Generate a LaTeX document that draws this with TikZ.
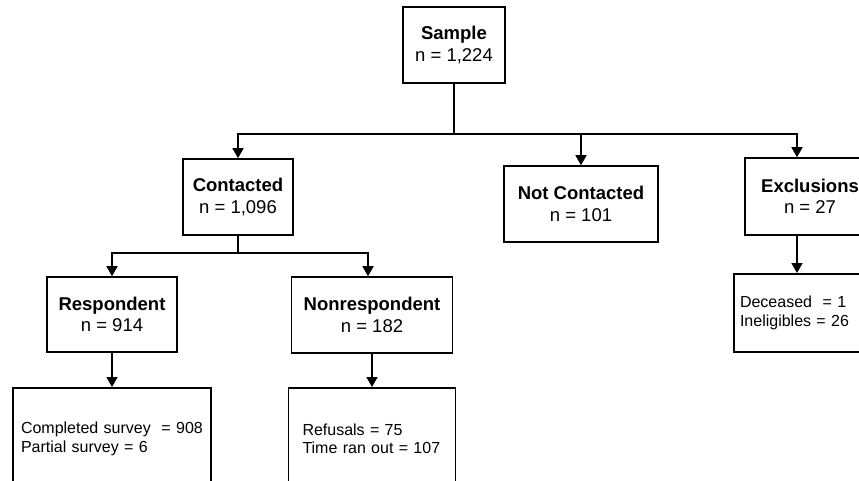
\documentclass[tikz,border=0pt]{standalone}
\usepackage{fontspec}
\setmainfont{Liberation Sans}
\usetikzlibrary{arrows.meta}
\tikzset{%
  box/.style     = {shape=rectangle, draw, line width=1.6pt, align=center,%
                    inner sep=2pt, font=\fontsize{18.5}{21.5}\selectfont},%
  listbox/.style = {shape=rectangle, draw, line width=1.6pt, align=left,%
                    anchor=north, font=\fontsize{16}{18.5}\selectfont},%
  arrow/.style   = {line width=1.6pt, -{Triangle[width=11pt,length=10pt]}},%
  line/.style    = {line width=1.6pt}%
}
\begin{document}
\begin{tikzpicture}[x=1pt,y=-1pt]
  \useasboundingbox (0,0) rectangle (859,481);
  \clip (0,0) rectangle (859,481);
  % first level
  \node [box, minimum width=102pt, minimum height=76pt] (sample) at (454,45)
        {\textbf{Sample}\\n = 1,224};
  \coordinate (split1) at (454,134);
  % second level
  \node [box, minimum width=110pt, minimum height=76pt] (contacted) at (238,197)
        {\textbf{Contacted}\\n = 1,096};
  \node [box, minimum width=154pt, minimum height=76pt] (notcontacted) at (581,204)
        {\textbf{Not Contacted}\\n = 101};
  \node [box, minimum width=130pt, minimum height=77pt] (exclusions) at (810,196.5)
        {\textbf{Exclusions}\\n = 27};
  \coordinate (split2) at (238,253);
  % third level
  \node [box, minimum width=130pt, minimum height=75pt] (respondent) at (112,314.5)
        {\textbf{Respondent}\\n = 914};
  \node [box, minimum width=161pt, minimum height=76pt] (nonrespondent) at (372,315)
        {\textbf{Nonrespondent}\\n = 182};
  \node [listbox, text width=114pt, inner xsep=6pt, minimum height=78pt] (deceased)
        at (797,273) {Deceased~~= 1\\Ineligibles = 26};
  % last level
  \node [listbox, text width=182pt, inner xsep=8pt, minimum height=102pt] (completed)
        at (112,387) {Completed survey~~= 908\\Partial survey = 6};
  \node [listbox, text width=139pt, inner xsep=14pt, minimum height=102pt] (refusals)
        at (372,387) {Refusals = 75\\Time ran out = 107};
  % connectors
  \draw [line] (sample) -- (split1);
  \draw [arrow] (split1) -| (contacted);
  \draw [arrow] (split1) -| (notcontacted);
  \draw [arrow] (split1) -| ([xshift=-13pt]exclusions.north);
  \draw [line] (contacted) -- (split2);
  \draw [arrow] (split2) -| (respondent);
  \draw [arrow] (split2) -| ([xshift=-4pt]nonrespondent.north);
  \draw [arrow] (respondent) -- (completed);
  \draw [arrow] (nonrespondent) -- (refusals);
  \draw [arrow] ([xshift=-13pt]exclusions.south) -- (deceased.north);
\end{tikzpicture}
\end{document}
